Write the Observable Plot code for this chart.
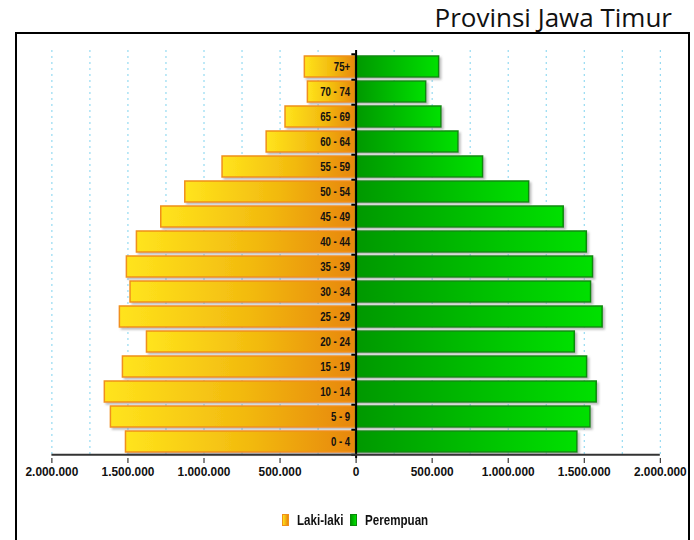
<!DOCTYPE html>
<html>
<head>
<meta charset="utf-8">
<script src="https://cdn.jsdelivr.net/npm/d3@7"></script>
<script src="https://cdn.jsdelivr.net/npm/@observablehq/plot@0.6"></script>
<style>
  html, body { margin: 0; padding: 0; background: #fff; }
  #page { position: relative; width: 694px; height: 540px; overflow: hidden; }
  #title { position: absolute; right: 22px; top: -1px; font-family: "Open Sans", sans-serif; font-size: 26px; color: #111; white-space: nowrap; }
  #frame { position: absolute; left: 15px; top: 32px; width: 675px; height: 540px; border: 2px solid #000; box-sizing: border-box; }
  #chart { position: absolute; left: 0; top: 0; }
  #legend { position: absolute; left: 282px; top: 512px; display: flex; gap: 7px;
            font-family: "Liberation Sans", Arial, sans-serif; font-weight: bold; font-size: 14.5px; color: #111; }
  .item { display: flex; align-items: center; gap: 8px; }
  .item .lbl { display: inline-block; transform: scaleX(0.8); transform-origin: left center; }
  .item.m .lbl { margin-right: -12px; }
  .sw { width: 7px; height: 12px; box-sizing: border-box; }
  .sw.m { background: linear-gradient(to right, #ffe21a, #e8870b); border: 1px solid #f0901a; }
  .sw.f { background: linear-gradient(to right, #009a00, #00e000); border: 1px solid #0a8a0a; }
</style>
</head>
<body>
<div id="page">
  <div id="title">Provinsi Jawa Timur</div>
  <div id="frame"></div>
  <div id="chart"></div>
  <div id="legend">
    <div class="item m"><span class="sw m"></span><span class="lbl">Laki-laki</span></div>
    <div class="item f"><span class="sw f"></span><span class="lbl">Perempuan</span></div>
  </div>
</div>
<script>
// Kelompok umur, dari bawah (0 - 4) ke atas (75+)
const ages = ["0 - 4", "5 - 9", "10 - 14", "15 - 19", "20 - 24", "25 - 29", "30 - 34", "35 - 39",
              "40 - 44", "45 - 49", "50 - 54", "55 - 59", "60 - 64", "65 - 69", "70 - 74", "75+"];
// Jumlah penduduk laki-laki per kelompok umur
const male = [1513000, 1612000, 1652000, 1533000, 1375000, 1553000, 1483000, 1507000,
              1441000, 1281000, 1123000, 878000, 588000, 464000, 317000, 337000];
// Jumlah penduduk perempuan per kelompok umur
const female = [1455000, 1541000, 1582000, 1519000, 1438000, 1621000, 1545000, 1558000,
                1517000, 1365000, 1138000, 835000, 673000, 561000, 461000, 546000];
// Nilai sumbu X dan garis bantu
const xTicks = [-2000000, -1500000, -1000000, -500000, 0, 500000, 1000000, 1500000, 2000000];
const gridValues = d3.range(-2000000, 2000001, 250000).filter(v => v !== 0);

const rows = ages.map((age, i) => ({age, male: male[i], female: female[i]}));
const idFormat = d3.formatLocale({decimal: ",", thousands: ".", grouping: [3], currency: ["", ""]}).format(",");
const sans = '"Liberation Sans", Arial, sans-serif';

const chart = Plot.plot({
  width: 694,
  height: 482,
  marginLeft: 51.4,
  marginRight: 34.2,
  marginTop: 50,
  marginBottom: 24,
  style: {background: "transparent", fontFamily: sans, fontSize: "13.5px", fontWeight: "bold", color: "#111"},
  x: {domain: [-2000000, 2000000], ticks: xTicks, tickFormat: d => idFormat(Math.abs(d)), tickSize: 5, tickPadding: 3, label: null},
  y: {domain: ages.slice().reverse(), paddingInner: 0.18, paddingOuter: 0.09, axis: null},
  marks: [
    Plot.ruleX(gridValues, {stroke: "#7fd3ef", strokeWidth: 1, strokeDasharray: "2,4"}),
    Plot.barX(rows, {y: "age", x1: 0, x2: d => -d.male, fill: "url(#gradMale)", stroke: "#f0901a", strokeWidth: 1.5}),
    Plot.barX(rows, {y: "age", x1: 0, x2: "female", fill: "url(#gradFemale)", stroke: "#0a8a0a", strokeWidth: 1.5}),
    Plot.text(rows, {y: "age", x: 0, text: "age", dx: -6, textAnchor: "end", fontSize: 12, fontWeight: "bold", fill: "#111"}),
    // penanda batas kelompok umur di sisi kiri garis tengah
    Plot.ruleY(ages, {y: d => d, x1: -28000, x2: 0, dy: 12.75, stroke: "#000", strokeWidth: 2}),
    Plot.ruleY([ages[ages.length - 1]], {y: d => d, x1: -28000, x2: 0, dy: -12.75, stroke: "#000", strokeWidth: 2}),
    Plot.ruleX([0], {stroke: "#000", strokeWidth: 2}),
    // garis sumbu bawah
    Plot.ruleY([ages[0]], {y: d => d, x1: -2000000, x2: 2000000, dy: 12.75, stroke: "#333", strokeWidth: 2})
  ]
});

const svg = d3.select(chart);
const defs = svg.insert("defs", ":first-child");
const gm = defs.append("linearGradient").attr("id", "gradMale").attr("x1", 0).attr("x2", 1).attr("y1", 0).attr("y2", 0);
gm.append("stop").attr("offset", "0%").attr("stop-color", "#ffe41c");
gm.append("stop").attr("offset", "55%").attr("stop-color", "#f2b90f");
gm.append("stop").attr("offset", "100%").attr("stop-color", "#e7860a");
const gf = defs.append("linearGradient").attr("id", "gradFemale").attr("x1", 0).attr("x2", 1).attr("y1", 0).attr("y2", 0);
gf.append("stop").attr("offset", "0%").attr("stop-color", "#009800");
gf.append("stop").attr("offset", "100%").attr("stop-color", "#00e000");
const sh = defs.append("filter").attr("id", "shadow").attr("x", "-5%").attr("y", "-20%").attr("width", "115%").attr("height", "160%");
sh.append("feDropShadow").attr("dx", 2).attr("dy", 2).attr("stdDeviation", 1).attr("flood-color", "#888").attr("flood-opacity", 0.55);
svg.selectAll('g[aria-label="bar"]').attr("filter", "url(#shadow)");

document.getElementById("chart").appendChild(chart);

// huruf sempit: padatkan setiap teks secara horizontal
svg.selectAll("text").each(function() {
  const len = this.getComputedTextLength();
  if (len > 0) {
    const k = this.closest('g[aria-label="text"]') ? 0.8 : 0.88;
    this.setAttribute("textLength", (len * k).toFixed(2));
    this.setAttribute("lengthAdjust", "spacingAndGlyphs");
  }
});
</script>
</body>
</html>
